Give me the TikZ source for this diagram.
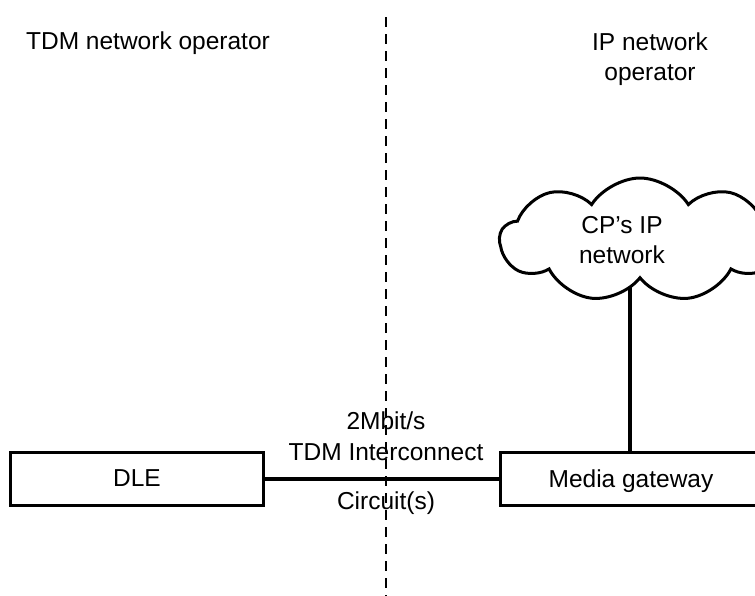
\documentclass[tikz,border=0pt]{standalone}
\usepackage{fontspec}
\setmainfont{Liberation Sans}
\usetikzlibrary{shapes.symbols, backgrounds}

\begin{document}
\begin{tikzpicture}[
        x=1pt, y=-1pt, % coordinates in pixels of the drawing
        lbl/.style={font=\fontsize{24.5}{30.5}\selectfont, align=center, inner sep=0pt},
        unit/.style={draw, line width=3pt, minimum width=253pt, minimum height=53pt,
                     inner sep=0pt, text depth=0pt, font=\fontsize{24.5}{30.5}\selectfont},
        link/.style={draw, line width=4pt},
        border/.style={draw, line width=2pt, dash pattern=on 10pt off 7pt},
        net/.style={cloud, cloud puffs=9, cloud puff arc=115, cloud ignores aspect,
                    draw, fill=white, line width=3pt, minimum width=280pt, minimum height=124pt},
    ]
    \useasboundingbox (0,0) rectangle (755,595);

    % operator borders
    \coordinate (top) at (386,17);
    \coordinate (bottom) at (386,600);
    \draw[border] (top) -- (bottom);
    \node[lbl] (tdmop) at (148,43) {TDM network operator};
    \node[lbl] (ipop) at (650,59) {IP network\\operator};

    % network elements
    \node[net] (cpnet) at (640,240) {};
    \node[lbl] (cptext) at (622,240) {CP’s IP\\network};
    \node[unit] (dle) at (137,478.5) {DLE};
    \node[unit, minimum width=262pt] (mgw) at (631,478.5) {Media gateway};

    \draw[link] (dle) -- (mgw);
    \begin{pgfonlayer}{background}
        \draw[link] (cpnet.center -| 630,0) -- (mgw.north -| 630,0);
    \end{pgfonlayer}

    \node[lbl] (speed) at (386,436) {2Mbit/s\\TDM Interconnect};
    \node[lbl] (circ) at (386,503) {Circuit(s)};
\end{tikzpicture}
\end{document}
